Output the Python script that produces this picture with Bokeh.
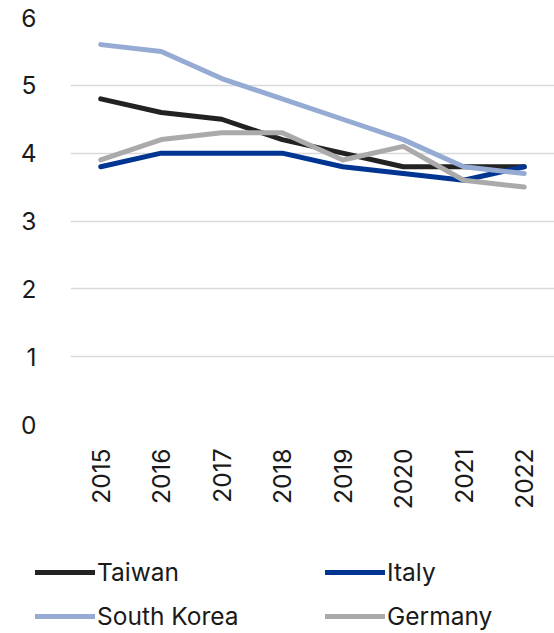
from bokeh.plotting import figure
from bokeh.models import Legend, LegendItem, FactorRange, SingleIntervalTicker
from bokeh.embed import file_html
from bokeh.resources import INLINE
import math

years = ["2015", "2016", "2017", "2018", "2019", "2020", "2021", "2022"]
taiwan = [4.8, 4.6, 4.5, 4.2, 4.0, 3.8, 3.8, 3.8]
italy = [3.8, 4.0, 4.0, 4.0, 3.8, 3.7, 3.6, 3.8]
south_korea = [5.6, 5.5, 5.1, 4.8, 4.5, 4.2, 3.8, 3.7]
germany = [3.9, 4.2, 4.3, 4.3, 3.9, 4.1, 3.6, 3.5]

series = [
    ("Taiwan", taiwan, "#222222"),
    ("Italy", italy, "#003591"),
    ("South Korea", south_korea, "#96abd4"),
    ("Germany", germany, "#aaaaaa"),
]

FONT = "Inter"
FS = "24.5px"
LW = 5

p = figure(x_range=FactorRange(*years), y_range=(0, 6), width=554, height=530,
           output_backend="svg", toolbar_location=None,
           min_border_left=70, min_border_right=0, min_border_top=17, min_border_bottom=106)
p.outline_line_color = None
p.background_fill_color = "white"

for name, vals, color in series:
    p.line(x=years, y=vals, line_color=color, line_width=LW,
           line_cap="round", line_join="round")

p.yaxis.ticker = SingleIntervalTicker(interval=1)
for ax in (p.xaxis[0], p.yaxis[0]):
    ax.axis_line_color = None
    ax.major_tick_line_color = None
    ax.minor_tick_line_color = None
    ax.major_label_text_font = FONT
    ax.major_label_text_font_size = FS
    ax.major_label_text_color = "#1a1a1a"
p.yaxis.major_label_standoff = 28
p.xaxis.major_label_standoff = 18
p.xaxis.major_label_orientation = math.pi / 2

p.xgrid.grid_line_color = None
p.ygrid.grid_line_color = "#d9d9d9"
p.ygrid.grid_line_width = 1.5

# Legend strip below the chart: same series, y-range chosen so only the legend keys show
lf = figure(width=554, height=103, x_range=FactorRange(*years), y_range=(-2, -1),
            output_backend="svg", toolbar_location=None,
            x_axis_location=None, y_axis_location=None, min_border=0)
lf.grid.visible = False
lf.outline_line_color = None

rend = {}
for name, vals, color in series:
    rend[name] = lf.line(x=years, y=vals, line_color=color, line_width=LW, line_cap="round")

def make_legend(names, loc):
    return Legend(items=[LegendItem(label=n, renderers=[rend[n]]) for n in names],
                  orientation="vertical", location=loc,
                  label_text_font=FONT, label_text_font_size=FS, label_text_color="#1a1a1a",
                  glyph_width=60, glyph_height=28, label_height=28,
                  label_standoff=2, spacing=14,
                  border_line_color=None, background_fill_alpha=0, padding=0, margin=0)

lf.add_layout(make_legend(["Taiwan", "South Korea"], (35, 2)), "center")
lf.add_layout(make_legend(["Italy", "Germany"], (325, 2)), "center")

# two independent roots, stacked (no frame alignment between them)
open("out.html", "w").write(file_html([p, lf], INLINE))
